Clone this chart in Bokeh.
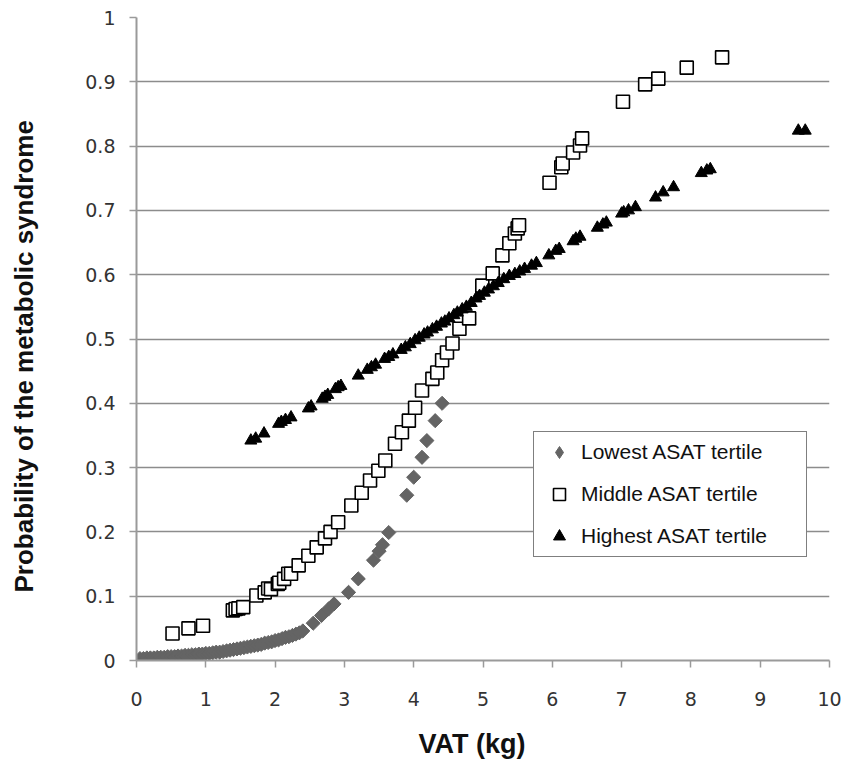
import math
from bokeh.plotting import figure
from bokeh.models import Range1d, FixedTicker, CustomJSTickFormatter, Legend, LegendItem, Title
from bokeh.embed import file_html
from bokeh.resources import INLINE

# ---- data ----
low_x = [0.05, 0.1, 0.15, 0.2, 0.25, 0.3, 0.35, 0.4, 0.45, 0.5, 0.55, 0.6, 0.65, 0.7, 0.75,
         0.8, 0.85, 0.9, 0.95, 1.0, 1.05, 1.1, 1.15, 1.2, 1.25, 1.3, 1.35, 1.4, 1.45, 1.5,
         1.55, 1.6, 1.65, 1.7, 1.75, 1.8, 1.85, 1.9, 1.95, 2.0, 2.05, 2.1, 2.15, 2.2, 2.25,
         2.3, 2.35, 2.4, 2.55, 2.67, 2.77, 2.85, 3.06, 3.2, 3.42, 3.5, 3.55, 3.64, 3.9, 4.0,
         4.12, 4.19, 4.31, 4.41]
low_y = [0.003, 0.003, 0.004, 0.004, 0.004, 0.005, 0.005, 0.005, 0.006, 0.006, 0.006, 0.007,
         0.007, 0.008, 0.008, 0.009, 0.009, 0.010, 0.010, 0.011, 0.011, 0.012, 0.013, 0.013,
         0.014, 0.015, 0.016, 0.017, 0.018, 0.019, 0.020, 0.021, 0.022, 0.023, 0.024, 0.025,
         0.027, 0.028, 0.029, 0.031, 0.032, 0.034, 0.036, 0.037, 0.039, 0.041, 0.043, 0.046,
         0.058, 0.070, 0.080, 0.088, 0.106, 0.127, 0.156, 0.170, 0.180, 0.199, 0.257, 0.285,
         0.316, 0.342, 0.373, 0.400]

mid_x = [0.52, 0.75, 0.96, 1.39, 1.43, 1.47, 1.54, 1.73, 1.85, 1.9, 1.94, 2.04, 2.06, 2.13,
         2.19, 2.23, 2.34, 2.48, 2.6, 2.72, 2.8, 2.91, 3.1, 3.25, 3.37, 3.49, 3.59, 3.73, 3.83,
         3.93, 4.02, 4.12, 4.27, 4.34, 4.41, 4.48, 4.56, 4.66, 4.8, 4.99, 5.14, 5.28, 5.38,
         5.46, 5.5, 5.52, 5.96, 6.13, 6.15, 6.3, 6.4, 6.43, 7.02, 7.34, 7.53, 7.94, 8.45]
mid_y = [0.042, 0.050, 0.054, 0.078, 0.080, 0.081, 0.083, 0.101, 0.106, 0.112, 0.111, 0.119,
         0.121, 0.127, 0.135, 0.135, 0.148, 0.163, 0.176, 0.190, 0.200, 0.215, 0.241, 0.261,
         0.280, 0.295, 0.311, 0.337, 0.355, 0.373, 0.393, 0.420, 0.438, 0.448, 0.467, 0.479,
         0.493, 0.516, 0.532, 0.583, 0.602, 0.630, 0.649, 0.664, 0.672, 0.677, 0.743, 0.767,
         0.773, 0.790, 0.801, 0.812, 0.869, 0.896, 0.905, 0.922, 0.938]

high_x = [1.65, 1.72, 1.84, 2.05, 2.09, 2.15, 2.23, 2.48, 2.52, 2.68, 2.72, 2.76, 2.87, 2.91,
          2.95, 3.2, 3.33, 3.39, 3.45, 3.58, 3.64, 3.7, 3.82, 3.88, 3.95, 4.02, 4.08, 4.15, 4.2,
          4.27, 4.33, 4.4, 4.45, 4.51, 4.58, 4.63, 4.7, 4.76, 4.83, 4.9, 4.95, 5.02, 5.08, 5.15,
          5.22, 5.3, 5.38, 5.46, 5.53, 5.6, 5.7, 5.77, 5.95, 6.05, 6.1, 6.3, 6.34, 6.4, 6.65,
          6.73, 6.78, 7.0, 7.03, 7.1, 7.2, 7.49, 7.6, 7.75, 8.15, 8.23, 8.28, 9.55, 9.65]
high_y = [0.342, 0.345, 0.353, 0.368, 0.371, 0.374, 0.378, 0.392, 0.395, 0.407, 0.410, 0.413,
          0.422, 0.425, 0.427, 0.443, 0.452, 0.456, 0.460, 0.469, 0.472, 0.476, 0.483, 0.487,
          0.492, 0.498, 0.502, 0.507, 0.510, 0.515, 0.519, 0.524, 0.527, 0.532, 0.537, 0.541,
          0.546, 0.550, 0.556, 0.563, 0.567, 0.572, 0.577, 0.582, 0.587, 0.593, 0.598, 0.601,
          0.605, 0.609, 0.614, 0.618, 0.630, 0.637, 0.640, 0.652, 0.656, 0.659, 0.673, 0.678,
          0.681, 0.695, 0.697, 0.700, 0.705, 0.720, 0.728, 0.736, 0.758, 0.762, 0.764, 0.824,
          0.824]

x_ticks = [0, 1, 2, 3, 4, 5, 6, 7, 8, 9, 10]
y_ticks = [0, 0.1, 0.2, 0.3, 0.4, 0.5, 0.6, 0.7, 0.8, 0.9, 1]
series_labels = ["Lowest ASAT tertile", "Middle ASAT tertile", "Highest ASAT tertile"]
x_title = "VAT (kg)"
y_title = "Probability of the metabolic syndrome"

# ---- figure ----
p = figure(width=846, height=764, output_backend="svg", toolbar_location=None,
           x_range=Range1d(0, 10), y_range=Range1d(0, 1),
           min_border_left=136, min_border_right=17, min_border_top=17, min_border_bottom=104)
p.outline_line_color = None
p.background_fill_color = "white"
p.border_fill_color = "white"

p.xgrid.grid_line_color = None
p.ygrid.grid_line_color = "#8c8c8c"
p.ygrid.grid_line_width = 1.5

tick_font = "DejaVu Sans"
for ax in (p.xaxis[0], p.yaxis[0]):
    ax.axis_line_color = "#9a9a9a"
    ax.axis_line_width = 2
    ax.major_tick_line_color = "#9a9a9a"
    ax.major_tick_line_width = 1.5
    ax.major_tick_in = 0
    ax.major_tick_out = 7
    ax.minor_tick_line_color = None
    ax.major_label_text_font = tick_font
    ax.major_label_text_font_size = "19px"
    ax.major_label_text_color = "#333333"

p.xaxis.ticker = FixedTicker(ticks=x_ticks)
p.yaxis.ticker = FixedTicker(ticks=y_ticks)
fmt = "return (Math.round(tick*10)/10).toString();"
p.xaxis.formatter = CustomJSTickFormatter(code=fmt)
p.yaxis.formatter = CustomJSTickFormatter(code=fmt)
p.xaxis.major_label_standoff = 24
p.yaxis.major_label_standoff = 14

# axis titles as side-panel titles (offset along the frame edge, padding toward the axis)
p.add_layout(Title(text=x_title, align="left", offset=282,
                   text_font="Liberation Sans", text_font_style="bold", text_font_size="27px",
                   text_color="#111111", standoff=0,
                   padding=dict(left=0, right=0, top=18, bottom=0)), "below")
p.add_layout(Title(text=y_title, align="left", offset=68,
                   text_font="Liberation Sans", text_font_style="bold", text_font_size="26px",
                   text_color="#111111", standoff=0,
                   padding=dict(left=0, right=0, top=0, bottom=44)), "left")

# legend-only diamond glyph (hidden under the rotated squares)
r_low_leg = p.scatter(low_x, low_y, marker="diamond", size=9,
                      fill_color="#646464", line_color="#646464")
r_low = p.scatter(low_x, low_y, marker="square", size=10, angle=math.pi / 4,
                  fill_color="#646464", line_color="#646464")
r_mid = p.scatter(mid_x, mid_y, marker="square", size=13, fill_color="white",
                  line_color="black", line_width=1.6)
r_high = p.scatter(high_x, high_y, marker="triangle", size=12, fill_color="black",
                   line_color="black")

legend = Legend(items=[LegendItem(label=series_labels[0], renderers=[r_low_leg]),
                       LegendItem(label=series_labels[1], renderers=[r_mid]),
                       LegendItem(label=series_labels[2], renderers=[r_high])],
                location=(397, 103))
legend.border_line_color = "black"
legend.border_line_width = 1
legend.background_fill_color = "white"
legend.background_fill_alpha = 1
legend.label_text_font = "Liberation Sans"
legend.label_text_font_size = "21px"
legend.label_text_color = "#111111"
legend.glyph_width = 40
legend.glyph_height = 30
legend.label_standoff = 2
legend.padding = 5
legend.spacing = 12
legend.margin = 0
legend.label_width = 220
p.add_layout(legend, "center")

open("out.html", "w").write(file_html(p, INLINE))
